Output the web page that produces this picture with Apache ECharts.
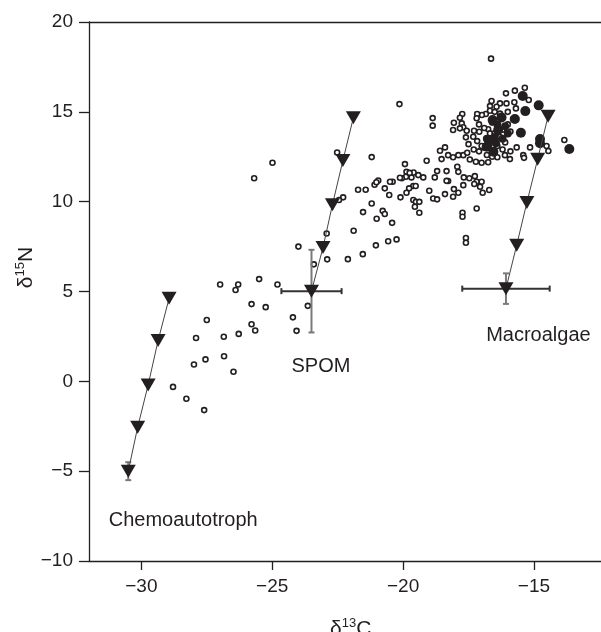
<!DOCTYPE html>
<html>
<head>
<meta charset="utf-8">
<script src="https://cdn.jsdelivr.net/npm/echarts@6/dist/echarts.min.js"></script>
<style>
  html, body { margin: 0; padding: 0; background: #fff; }
  #chart { width: 601px; height: 632px; }
</style>
</head>
<body>
<div id="chart"></div>
<script>
// tick values
var xTicks = [-30, -25, -20, -15];

// trophic enrichment lines (triangles) for each source
var chemoTrophic = [[-30.5, -5.0], [-30.14, -2.55], [-29.74, -0.2], [-29.36, 2.27], [-28.94, 4.62]];
var spomTrophic = [[-23.5, 5.02], [-23.06, 7.45], [-22.70, 9.83], [-22.30, 12.29], [-21.90, 14.67]];
var macroTrophic = [[-16.07, 5.16], [-15.66, 7.58], [-15.27, 9.96], [-14.86, 12.36], [-14.46, 14.76]];

// source means with sd: [x, y, xErr, yErr]
var sourceErrors = [[-30.5, -5.0, 0, 0.5], [-23.5, 5.02, 1.15, 2.3], [-16.07, 5.16, 1.67, 0.85]];

// source labels
var sourceNames = ['Chemoautotroph', 'SPOM', 'Macroalgae'];
var sourceLabelPos = [[-28.4, -7.73], [-23.14, 0.85], [-14.83, 2.57]];

// consumers (open circles)
var consumers = [
  [-28.79, -0.31], [-28.28, -0.97], [-27.60, -1.60], [-27.99, 0.94], [-27.55, 1.22], [-26.84, 1.40], [-26.48, 0.53],
  [-27.91, 2.41], [-27.50, 3.41], [-26.85, 2.48], [-26.28, 2.64], [-25.79, 3.18], [-25.65, 2.83], [-25.79, 4.30], [-25.25, 4.13],
  [-26.99, 5.39], [-26.30, 5.39], [-26.40, 5.08], [-25.50, 5.69], [-24.80, 5.39],
  [-24.21, 3.56], [-24.07, 2.81], [-23.64, 4.20],
  [-24.00, 7.50], [-23.41, 6.51], [-22.90, 6.79], [-22.92, 8.23], [-22.11, 6.80], [-21.89, 8.38], [-21.54, 7.08],
  [-21.04, 7.57], [-20.57, 7.80], [-20.25, 7.90],
  [-25.69, 11.30], [-24.99, 12.17], [-22.52, 12.74], [-22.29, 10.24], [-22.45, 10.09],
  [-21.72, 10.66], [-21.43, 10.66], [-21.53, 9.42], [-21.20, 9.90], [-21.20, 12.48], [-21.01, 9.05],
  [-21.09, 10.94], [-20.95, 11.18], [-21.02, 11.08],
  [-20.14, 15.43], [-16.64, 17.96], [-18.87, 14.65], [-18.87, 14.23],
  [-16.07, 16.03], [-15.73, 16.18], [-15.35, 16.34], [-15.20, 15.66], [-15.75, 15.53], [-16.05, 15.47], [-16.30, 15.47],
  [-16.62, 15.60], [-16.68, 15.32], [-16.43, 15.28], [-15.69, 15.19], [-16.68, 15.06], [-16.84, 14.88], [-16.99, 14.82],
  [-17.17, 14.88], [-17.19, 14.64], [-17.74, 14.88], [-17.83, 14.67], [-18.06, 14.39], [-17.76, 14.36], [-17.70, 14.14],
  [-18.09, 13.99], [-17.83, 14.08], [-17.57, 13.95], [-17.60, 13.58], [-17.29, 13.95], [-17.09, 13.89], [-17.32, 13.61],
  [-17.17, 13.37], [-16.75, 14.03], [-16.68, 13.80],
  [-15.66, 13.02], [-15.15, 13.02], [-14.52, 13.10], [-14.45, 12.82], [-13.84, 13.43], [-15.41, 12.59], [-15.38, 12.44],
  [-15.92, 12.37], [-16.11, 12.59], [-16.40, 12.47], [-16.75, 12.19], [-17.00, 12.17], [-17.22, 12.22], [-17.45, 12.35],
  [-17.70, 12.59], [-17.55, 12.72], [-17.89, 12.59], [-18.09, 12.47], [-18.28, 12.59], [-18.40, 13.02], [-18.59, 12.83],
  [-18.53, 12.37], [-19.10, 12.28], [-17.93, 11.94], [-17.89, 11.66], [-18.34, 11.70], [-18.28, 11.15], [-18.70, 11.70],
  [-18.79, 11.35], [-19.23, 11.35], [-19.42, 11.48], [-19.68, 11.35], [-19.87, 11.66], [-19.93, 12.09], [-19.89, 11.39],
  [-19.60, 11.62], [-19.75, 11.60], [-20.05, 11.30], [-20.40, 11.11],
  [-19.61, 10.87], [-19.77, 10.74], [-19.52, 10.87], [-19.87, 10.50], [-20.10, 10.24], [-20.12, 11.33], [-20.50, 11.11],
  [-20.70, 10.74], [-20.53, 10.37], [-20.78, 9.49], [-20.70, 9.31], [-20.42, 8.82], [-19.61, 10.09], [-19.51, 9.99],
  [-19.38, 9.99], [-19.55, 9.72], [-19.38, 9.38], [-19.00, 10.61], [-18.85, 10.18], [-18.70, 10.13], [-18.40, 10.42],
  [-18.34, 11.16], [-18.06, 10.70], [-17.89, 10.50], [-18.09, 10.27], [-17.70, 10.92], [-17.68, 11.35], [-17.47, 11.30],
  [-17.26, 11.42], [-17.19, 11.11], [-17.00, 11.11], [-17.28, 10.98], [-17.06, 10.83], [-16.96, 10.50], [-16.71, 10.65],
  [-17.19, 9.62], [-17.73, 9.38], [-17.73, 9.16], [-17.60, 7.98], [-17.60, 7.71],
  [-16.60, 14.40], [-16.40, 14.20], [-16.20, 14.00], [-16.50, 13.80], [-16.30, 13.60], [-16.00, 14.30], [-15.90, 13.90],
  [-16.70, 13.20], [-16.90, 13.00], [-16.40, 13.10], [-16.10, 13.30], [-15.80, 14.60], [-16.00, 15.00], [-16.30, 14.90],
  [-16.50, 15.00], [-17.00, 13.10], [-17.10, 12.80], [-16.20, 12.90], [-15.90, 12.80], [-16.80, 12.60], [-16.60, 12.50],
  [-17.30, 12.90], [-17.50, 13.20], [-16.90, 14.10], [-17.10, 14.30]
];

// large filled circles
var filledConsumers = [
  [-15.43, 15.88], [-14.82, 15.36], [-15.33, 15.04], [-15.50, 13.84], [-14.77, 13.49], [-14.77, 13.25], [-13.65, 12.93],
  [-15.73, 14.60], [-16.24, 14.69], [-16.58, 14.54], [-16.37, 13.99], [-16.68, 13.43], [-16.81, 13.06], [-16.55, 12.78]
];

// overlapping points forming the dark blob
var blobConsumers = [
  [-16.40, 14.30], [-16.10, 14.20], [-16.50, 13.60], [-16.20, 13.50], [-16.80, 13.50], [-16.00, 13.80], [-16.45, 13.25]
];

var ink = '#231f20';
var font = 'Liberation Sans, Arial, Helvetica, sans-serif';

function minus(v) {
    return String(v).replace('-', '\u2212');
}

var chart = echarts.init(document.getElementById('chart'));

var triangle = 'path://M0,0 L14,0 L7,12 Z';

function trophicLine(data) {
    return {
        type: 'line',
        data: data,
        symbol: triangle,
        symbolSize: [15, 13],
        symbolKeepAspect: false,
        z: 4,
        lineStyle: { color: '#444', width: 1 },
        itemStyle: { color: ink, opacity: 1 },
        emphasis: { disabled: true }
    };
}

var nameRich = {
    d: { fontSize: 21, fontFamily: font, color: ink, lineHeight: 24 },
    s: { fontSize: 13, fontFamily: font, color: ink, lineHeight: 14, verticalAlign: 'top' },
    n: { fontSize: 21, fontFamily: font, color: ink, lineHeight: 24 }
};

var option = {
    animation: false,
    grid: { left: 89, right: -11.5, top: 22, bottom: 71, outerBoundsMode: 'none', containLabel: false },
    xAxis: [{
        type: 'value',
        min: -32,
        max: -12,
        name: '{d|δ}{s|13}{n|C}',
        nameLocation: 'middle',
        nameGap: 56,
        nameMoveOverlap: false,
        nameTextStyle: { rich: nameRich },
        splitLine: { show: false },
        axisLine: { onZero: false, lineStyle: { color: ink, width: 1.3 } },
        axisTick: { length: 9, customValues: xTicks, lineStyle: { color: ink, width: 1.3 } },
        axisLabel: {
            customValues: xTicks,
            margin: 16,
            fontSize: 19,
            fontFamily: font,
            color: ink,
            formatter: minus
        }
    }, {
        type: 'value',
        position: 'top',
        min: -32,
        max: -12,
        splitLine: { show: false },
        axisLine: { show: true, onZero: false, lineStyle: { color: ink, width: 1.3 } },
        axisTick: { show: false },
        axisLabel: { show: false }
    }],
    yAxis: {
        type: 'value',
        min: -10,
        max: 20,
        interval: 5,
        name: '{d|δ}{s|15}{n|N}',
        nameLocation: 'middle',
        nameGap: 51,
        nameMoveOverlap: false,
        nameTextStyle: { rich: nameRich, padding: [0, 0, 0, 48] },
        splitLine: { show: false },
        axisLine: { onZero: false, lineStyle: { color: ink, width: 1.3 } },
        axisTick: { length: 10, lineStyle: { color: ink, width: 1.3 } },
        axisLabel: {
            margin: 16,
            fontSize: 19,
            fontFamily: font,
            color: ink,
            formatter: minus
        }
    },
    series: [
        {
            type: 'scatter',
            data: consumers,
            symbol: 'circle',
            symbolSize: 5,
            z: 2,
            itemStyle: { color: '#fff', borderColor: ink, borderWidth: 1.6, opacity: 1 }
        },
        {
            type: 'scatter',
            data: blobConsumers,
            symbol: 'circle',
            symbolSize: 8,
            z: 2,
            itemStyle: { color: ink, opacity: 1 }
        },
        {
            type: 'scatter',
            data: filledConsumers,
            symbol: 'circle',
            symbolSize: 10,
            z: 2,
            itemStyle: { color: ink, opacity: 1 }
        },
        {
            type: 'custom',
            data: sourceErrors,
            z: 3,
            renderItem: function(params, api) {
                var x = api.value(0), y = api.value(1), ex = api.value(2), ey = api.value(3);
                var cap = 3;
                var kids = [];
                if (ey > 0) {
                    var t = api.coord([x, y + ey]), b = api.coord([x, y - ey]);
                    var g = { stroke: '#7a7a7a', lineWidth: 2 };
                    kids.push({ type: 'line', shape: { x1: t[0], y1: t[1], x2: b[0], y2: b[1] }, style: g });
                    kids.push({ type: 'line', shape: { x1: t[0] - cap, y1: t[1], x2: t[0] + cap, y2: t[1] }, style: g });
                    kids.push({ type: 'line', shape: { x1: b[0] - cap, y1: b[1], x2: b[0] + cap, y2: b[1] }, style: g });
                }
                if (ex > 0) {
                    var l = api.coord([x - ex, y]), r = api.coord([x + ex, y]);
                    var h = { stroke: '#333', lineWidth: 2 };
                    kids.push({ type: 'line', shape: { x1: l[0], y1: l[1], x2: r[0], y2: r[1] }, style: h });
                    kids.push({ type: 'line', shape: { x1: l[0], y1: l[1] - cap, x2: l[0], y2: l[1] + cap }, style: h });
                    kids.push({ type: 'line', shape: { x1: r[0], y1: r[1] - cap, x2: r[0], y2: r[1] + cap }, style: h });
                }
                return { type: 'group', children: kids };
            }
        },
        trophicLine(chemoTrophic),
        trophicLine(spomTrophic),
        trophicLine(macroTrophic),
        {
            type: 'scatter',
            data: sourceNames.map(function(n, i) {
                return { name: n, value: sourceLabelPos[i] };
            }),
            symbolSize: 1,
            itemStyle: { color: 'rgba(0,0,0,0)', opacity: 1 },
            label: {
                show: true,
                position: 'inside',
                formatter: '{b}',
                fontSize: 20,
                fontFamily: font,
                color: ink
            }
        }
    ]
};

chart.setOption(option);
</script>
</body>
</html>
